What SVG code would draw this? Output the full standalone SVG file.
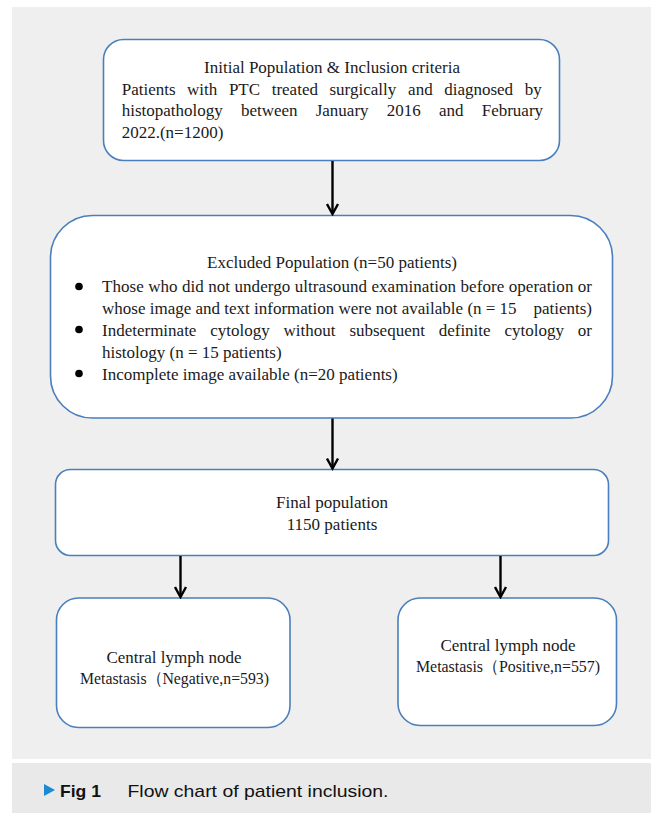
<svg xmlns="http://www.w3.org/2000/svg" width="651" height="813" viewBox="0 0 651 813">
<defs>
<style>
.box{fill:#ffffff;stroke:#4a7fbd;stroke-width:1.6}
.t{font-family:"Liberation Serif","Times New Roman",serif;font-size:17px;fill:#1a1a1a}
.c{text-anchor:middle}
.conn{stroke:#000;stroke-width:2.4;fill:none}
.cap{font-family:"Liberation Sans",Arial,sans-serif;font-size:17px;fill:#111}
</style>
<marker id="ah" markerUnits="userSpaceOnUse" viewBox="0 0 14 14" refX="12" refY="7" markerWidth="14" markerHeight="14" orient="auto">
<path d="M2,1.5 L12,7 L2,12.5" fill="none" stroke="#000" stroke-width="2.4" stroke-linejoin="miter"/>
</marker>
</defs>
<rect x="0" y="0" width="651" height="813" fill="#ffffff"/>
<rect x="12" y="7" width="639" height="752" fill="#efefef"/>
<rect x="12" y="763" width="639" height="50" fill="#e9e9e9"/>

<g id="node-initial">
<rect class="box" x="103.5" y="39.5" width="456" height="121" rx="20"/>
<text class="t c" x="332" y="73">Initial Population &amp; Inclusion criteria</text>
<text class="t"><tspan x="121.7" y="94.5">Patients</tspan><tspan x="187.1">with</tspan><tspan x="228.9">PTC</tspan><tspan x="271.7">treated</tspan><tspan x="329.5">surgically</tspan><tspan x="408.1">and</tspan><tspan x="444.2">diagnosed</tspan><tspan x="524.7">by</tspan></text>
<text class="t"><tspan x="121.7" y="116">histopathology</tspan><tspan x="240.9">between</tspan><tspan x="315.7">January</tspan><tspan x="386.8">2016</tspan><tspan x="438.9">and</tspan><tspan x="481.7">February</tspan></text>
<text class="t" x="121.7" y="137.5">2022.(n=1200)</text>
</g>

<g id="node-excluded">
<rect class="box" x="50.5" y="215.5" width="562" height="202.5" rx="42"/>
<text class="t c" x="332" y="268">Excluded Population (n=50 patients)</text>
<circle cx="79" cy="286.5" r="3.8" fill="#000"/>
<circle cx="79" cy="329.5" r="3.8" fill="#000"/>
<circle cx="79" cy="373.5" r="3.8" fill="#000"/>
<text class="t" x="102" y="292" textLength="490" lengthAdjust="spacing">Those who did not undergo ultrasound examination before operation or</text>
<text class="t"><tspan x="102" y="314">whose image and text information were not available (n = 15</tspan><tspan x="592" text-anchor="end">patients)</tspan></text>
<text class="t"><tspan x="102" y="336">Indeterminate</tspan><tspan x="210.3">cytology</tspan><tspan x="283.6">without</tspan><tspan x="349.4">subsequent</tspan><tspan x="438.7">definite</tspan><tspan x="504.5">cytology</tspan><tspan x="577.8">or</tspan></text>
<text class="t" x="102" y="358">histology (n = 15 patients)</text>
<text class="t" x="102" y="380">Incomplete image available (n=20 patients)</text>
</g>

<g id="node-final">
<rect class="box" x="55.5" y="469.5" width="553" height="86" rx="15"/>
<text class="t c" x="332" y="508">Final population</text>
<text class="t c" x="332" y="530">1150 patients</text>
</g>

<g id="node-negative">
<rect class="box" x="56.5" y="598" width="233.5" height="129.5" rx="22"/>
<text class="t c" x="174" y="663">Central lymph node</text>
<text class="t" x="80" y="684" textLength="189" lengthAdjust="spacingAndGlyphs">Metastasis（Negative,n=593)</text>
</g>

<g id="node-positive">
<rect class="box" x="398" y="598" width="218.5" height="127.5" rx="22"/>
<text class="t c" x="508" y="651">Central lymph node</text>
<text class="t" x="416" y="672" textLength="184" lengthAdjust="spacingAndGlyphs">Metastasis（Positive,n=557)</text>
</g>

<g id="connectors">
<line class="conn" x1="332.5" y1="161" x2="332.5" y2="214" marker-end="url(#ah)"/>
<line class="conn" x1="332.5" y1="418.5" x2="332.5" y2="468.5" marker-end="url(#ah)"/>
<line class="conn" x1="180.5" y1="556" x2="180.5" y2="597" marker-end="url(#ah)"/>
<line class="conn" x1="500.5" y1="556" x2="500.5" y2="597" marker-end="url(#ah)"/>
</g>

<g id="caption">
<path d="M44,784 L55,790 L44,796 Z" fill="#1b8ad4"/>
<text class="cap" x="60" y="797" font-weight="bold" textLength="41" lengthAdjust="spacingAndGlyphs">Fig 1</text>
<text class="cap" x="127.5" y="797" textLength="261" lengthAdjust="spacingAndGlyphs">Flow chart of patient inclusion.</text>
</g>
</svg>
